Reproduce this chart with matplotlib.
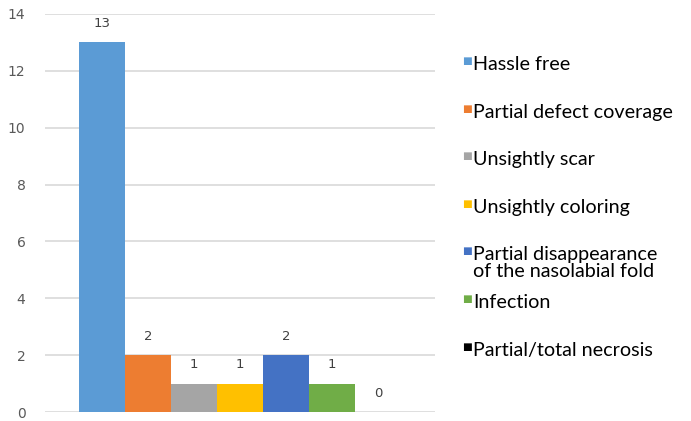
import matplotlib.pyplot as plt

labels = ['Hassle free', 'Partial defect coverage', 'Unsightly scar',
          'Unsightly coloring', 'Partial disappearance\nof the nasolabial fold',
          'Infection', 'Partial/total necrosis']
values = [13, 2, 1, 1, 2, 1, 0]
colors = ['#5B9BD5', '#ED7D31', '#A5A5A5', '#FFC000', '#4472C4', '#70AD47', '#000000']
yticks = [0, 2, 4, 6, 8, 10, 12, 14]

fig = plt.figure(figsize=(6.91, 4.21), dpi=100)
ax = fig.add_axes([0.065, 0.021, 0.565, 0.946])

x = list(range(len(values)))
bars = ax.bar(x, values, width=1.0, color=colors, zorder=2)
ax.bar_label(bars, labels=[str(v) for v in values], padding=9,
             fontsize=9.5, color='#404040')

ax.set_xlim(-1.24, 7.24)
ax.set_ylim(0, 14)
ax.set_yticks(yticks)
ax.set_xticks([])
ax.tick_params(axis='y', length=0, pad=14, labelsize=10, labelcolor='#595959')
ax.yaxis.grid(True, color='#d9d9d9', lw=1.2, zorder=0)
for s in ax.spines.values():
    s.set_visible(False)

# legend drawn as text, Excel style (multi-line entry doesn't push the others)
H = 421
for i, (lab, c) in enumerate(zip(labels, colors)):
    yb = 71 + 47.6 * i
    fig.text(462 / 691, 1 - (yb - 10) / H, '\u25A0', color=c, fontsize=7.5,
             va='center', ha='left', family='DejaVu Sans')
    fig.text(473 / 691, 1 - (yb - 15) / H, lab, fontsize=14.2, va='top',
             ha='left', family='Lato', color='#000000', linespacing=1.0)

fig.savefig('out.png', dpi=100)
